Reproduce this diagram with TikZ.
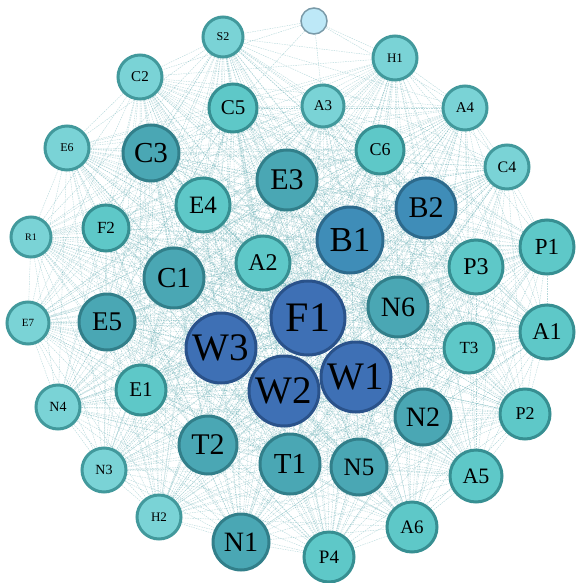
\documentclass[tikz,border=0pt]{standalone}
\usepackage{fontspec}
\setmainfont{Liberation Serif}
\usetikzlibrary{backgrounds}
\definecolor{fa}{HTML}{7AD3D6}\definecolor{ba}{HTML}{42999C}
\definecolor{fb}{HTML}{5EC8C8}\definecolor{bb}{HTML}{378F92}
\definecolor{fc}{HTML}{4AA7B4}\definecolor{bc}{HTML}{327F8A}
\definecolor{fd}{HTML}{3F8DB8}\definecolor{bd}{HTML}{2D6A8C}
\definecolor{fe}{HTML}{3E70B5}\definecolor{be}{HTML}{2A528A}
\definecolor{fx}{HTML}{BDE8F7}\definecolor{bx}{HTML}{7A9AA8}
\definecolor{edgec}{HTML}{6AAFB5}
\tikzset{
  gn/.style={circle,inner sep=0pt,line width=3pt,text=black},
  ta/.style={fill=fa,draw=ba},
  tb/.style={fill=fb,draw=bb},
  tc/.style={fill=fc,draw=bc},
  td/.style={fill=fd,draw=bd},
  te/.style={fill=fe,draw=be},
  tx/.style={fill=fx,draw=bx,line width=1.5pt},
  edge/.style={draw=edgec,line width=0.4pt,dash pattern=on 1.5pt off 1pt,opacity=0.5}
}
\newcommand\gnode[6]{\node[gn,#6,minimum size=#4*2pt,font=\fontsize{#5}{#5}\selectfont] (#1) at (#2,#3) {#1};}
\begin{document}
\begin{tikzpicture}[x=1pt,y=-1pt]
\useasboundingbox (0,0) rectangle (575,583);
\node[gn,tx,minimum size=26pt] (X0) at (314,21) {};
\gnode{S2}{223}{37}{20}{12}{ta}
\gnode{H1}{395}{58}{22}{13}{ta}
\gnode{C2}{140}{77}{22}{15}{ta}
\gnode{C5}{233}{108}{24}{21}{tb}
\gnode{A3}{323}{106}{21}{15}{ta}
\gnode{A4}{465}{108}{22}{15}{ta}
\gnode{E6}{67}{148}{22}{12}{ta}
\gnode{C3}{151}{153}{28}{29}{tc}
\gnode{C6}{380}{150}{24}{18}{tb}
\gnode{C4}{507}{167}{22}{16}{ta}
\gnode{E3}{287}{180}{30}{30}{tc}
\gnode{E4}{203}{205}{27}{25}{tb}
\gnode{B2}{426}{208}{30}{30}{td}
\gnode{F2}{106}{228}{23}{17}{tb}
\gnode{R1}{31}{237}{20}{10}{ta}
\gnode{B1}{350}{240}{33}{35}{td}
\gnode{A2}{263}{263}{27}{24}{tb}
\gnode{P1}{547}{247}{27}{23}{tb}
\gnode{P3}{476}{267}{27}{24}{tb}
\gnode{C1}{174}{278}{30}{29}{tc}
\gnode{F1}{308}{318}{37}{42}{te}
\gnode{N6}{398}{307}{30}{28}{tc}
\gnode{E5}{107}{322}{28}{27}{tc}
\gnode{E7}{28}{323}{21}{11}{ta}
\gnode{A1}{547}{332}{27}{24}{tb}
\gnode{W3}{221}{348}{35}{39}{te}
\gnode{T3}{469}{348}{25}{17}{tb}
\gnode{W1}{356}{377}{35}{39}{te}
\gnode{W2}{284}{391}{35}{39}{te}
\gnode{E1}{141}{390}{25}{21}{tb}
\gnode{N4}{58}{407}{22}{14}{ta}
\gnode{N2}{423}{417}{28}{28}{tc}
\gnode{P2}{525}{414}{25}{18}{tb}
\gnode{T2}{208}{445}{29}{30}{tc}
\gnode{T1}{290}{464}{30}{29}{tc}
\gnode{N5}{359}{467}{28}{25}{tc}
\gnode{A5}{476}{476}{26}{22}{tb}
\gnode{N3}{104}{470}{22}{14}{ta}
\gnode{H2}{159}{517}{22}{13}{ta}
\gnode{N1}{241}{542}{28}{28}{tc}
\gnode{A6}{412}{527}{25}{19}{tb}
\gnode{P4}{329}{557}{25}{19}{tb}
\def\nodelist{S2,H1,C2,C5,A3,A4,E6,C3,C6,C4,E3,E4,B2,F2,R1,B1,A2,P1,P3,C1,F1,N6,E5,E7,A1,W3,T3,W1,W2,E1,N4,N2,P2,T2,T1,N5,A5,N3,H2,N1,A6,P4}
\begin{scope}[on background layer]
\foreach \a [count=\i] in \nodelist {
  \foreach \b [count=\j] in \nodelist {
    \ifnum\i<\j \draw[edge] (\a) -- (\b); \fi
  }
}
\foreach \b in {S2,H1,A3,C5,C2,A4}{\draw[edge] (X0) -- (\b);}
\end{scope}
\end{tikzpicture}
\end{document}
